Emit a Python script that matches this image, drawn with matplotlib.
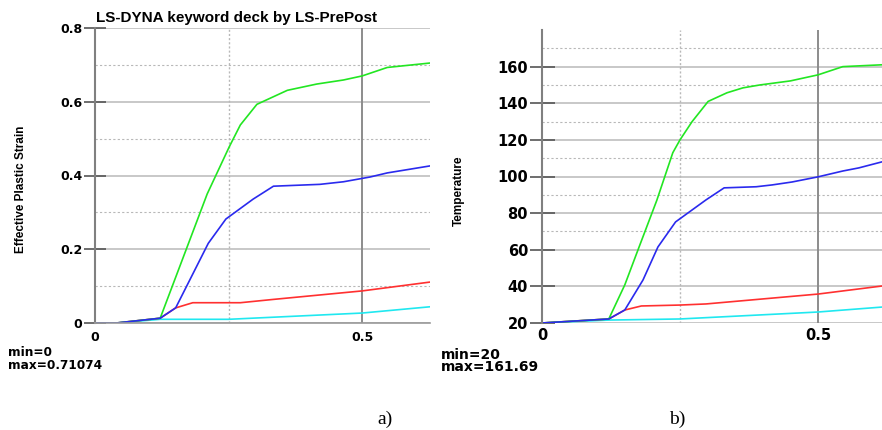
import matplotlib
matplotlib.use('Agg')
import matplotlib.pyplot as plt
from matplotlib.ticker import FixedLocator
from matplotlib.font_manager import FontProperties

# a) effective plastic strain
t_green_a = [0, 0.04, 0.122, 0.21, 0.251, 0.272, 0.303, 0.36, 0.415, 0.465, 0.5, 0.547, 0.627]
v_green_a = [0, 0, 0.013, 0.35, 0.477, 0.537, 0.593, 0.631, 0.648, 0.659, 0.67, 0.693, 0.705]
t_blue_a = [0, 0.04, 0.122, 0.151, 0.212, 0.245, 0.296, 0.334, 0.421, 0.465, 0.515, 0.547, 0.627]
v_blue_a = [0, 0, 0.013, 0.041, 0.216, 0.282, 0.336, 0.371, 0.376, 0.383, 0.396, 0.407, 0.426]
t_red_a = [0, 0.04, 0.122, 0.151, 0.183, 0.272, 0.334, 0.5, 0.627]
v_red_a = [0, 0, 0.013, 0.041, 0.055, 0.055, 0.064, 0.087, 0.111]
t_cyan_a = [0, 0.04, 0.122, 0.25, 0.5, 0.627]
v_cyan_a = [0, 0, 0.01, 0.01, 0.027, 0.044]

# b) temperature
t_green_b = [0, 0.121, 0.150, 0.174, 0.208, 0.237, 0.25, 0.272, 0.301, 0.335, 0.364, 0.395, 0.45, 0.5, 0.545, 0.616]
v_green_b = [20, 22.2, 40.8, 60, 87, 113, 120, 130, 141, 145.7, 148.4, 150, 152.2, 155.5, 160, 161]
t_blue_b = [0, 0.121, 0.150, 0.183, 0.21, 0.242, 0.297, 0.33, 0.388, 0.417, 0.453, 0.5, 0.545, 0.574, 0.616]
v_blue_b = [20, 22.2, 27.1, 43.5, 61.5, 75.2, 87.2, 93.8, 94.4, 95.4, 97, 99.8, 103, 104.7, 108]
t_red_b = [0, 0.121, 0.150, 0.18, 0.25, 0.297, 0.5, 0.616]
v_red_b = [20, 22.2, 27.1, 29.3, 29.8, 30.4, 35.8, 40.2]
t_cyan_b = [0, 0.121, 0.25, 0.5, 0.616]
v_cyan_b = [20, 21.6, 22.2, 26, 28.7]

GREEN = '#22e622'
BLUE = '#2a2aee'
RED = '#ff3030'
CYAN = '#20e8f0'

fig = plt.figure(figsize=(8.82, 4.30), dpi=100)

label_font = dict(family='Liberation Sans', weight='bold', size=8.5)


def style_axes(ax, major_y, minor_y, tick_len, xpad):
    for s in ['top', 'right']:
        ax.spines[s].set_visible(False)
    ax.spines['left'].set_color('#808080')
    ax.spines['left'].set_linewidth(1.5)
    ax.xaxis.set_major_locator(FixedLocator([0, 0.5]))
    ax.xaxis.set_major_formatter(plt.FuncFormatter(lambda v, p: '0' if v == 0 else '%g' % v))
    ax.yaxis.set_major_locator(FixedLocator(major_y))
    ax.tick_params(axis='y', direction='inout', length=tick_len, width=1.2, color='#555555', pad=1)
    ax.tick_params(axis='x', length=0, pad=xpad)
    # grid
    for y in major_y:
        ax.axhline(y, color='#c8c8c8', lw=1.4, zorder=0)
    for y in minor_y:
        ax.axhline(y, color='#b8b8b8', lw=0.8, ls=(0, (2, 2)), zorder=0)
    ax.axvline(0.25, color='#b8b8b8', lw=1.0, ls=(0, (1.5, 1.5)), zorder=0)
    ax.axvline(0.5, color='#8c8c8c', lw=1.4, zorder=0)


def set_tick_font(ax, size):
    fp = FontProperties(family='DejaVu Sans', weight='bold', size=size)
    for lab in ax.get_xticklabels() + ax.get_yticklabels():
        lab.set_fontproperties(fp)


# ---- panel a
ax1 = fig.add_axes([95 / 882, 1 - 323 / 430, 335 / 882, 295 / 430])
ax1.set_xlim(0, 0.627)
ax1.set_ylim(0, 0.8)
style_axes(ax1, [0, 0.2, 0.4, 0.6, 0.8], [0.1, 0.3, 0.5, 0.7], 16, 6)
ax1.yaxis.set_major_formatter(plt.FuncFormatter(lambda v, p: '0' if v == 0 else '%.1f' % v))
ax1.spines['bottom'].set_color('#9a9a9a')
ax1.spines['bottom'].set_linewidth(1.2)
set_tick_font(ax1, 9)
ax1.plot(t_cyan_a, v_cyan_a, color=CYAN, lw=1.2)
ax1.plot(t_red_a, v_red_a, color=RED, lw=1.2)
ax1.plot(t_green_a, v_green_a, color=GREEN, lw=1.2)
ax1.plot(t_blue_a, v_blue_a, color=BLUE, lw=1.2)
ax1.set_ylabel('Effective Plastic Strain', **label_font)
ax1.yaxis.set_label_coords(-0.203, 0.454)
fig.text(96 / 882, 1 - 18 / 430, 'LS-DYNA keyword deck by LS-PrePost', family='Liberation Sans',
         weight='bold', size=11, va='center', ha='left')
fig.text(8 / 882, 1 - 359 / 430, 'min=0\nmax=0.71074', family='DejaVu Sans', weight='bold',
         size=8.7, va='center', ha='left', linespacing=0.95)

# ---- panel b
ax2 = fig.add_axes([542 / 882, 1 - 323 / 430, 340 / 882, 293 / 430])
ax2.set_xlim(0, 0.616)
ax2.set_ylim(20, 180)
style_axes(ax2, [20, 40, 60, 80, 100, 120, 140, 160], [70, 90, 110, 130, 150, 170], 18, 3.5)
ax2.yaxis.set_major_formatter(plt.FuncFormatter(lambda v, p: '%d' % v))
ax2.spines['bottom'].set_visible(False)
set_tick_font(ax2, 10.5)
ax2.plot(t_cyan_b, v_cyan_b, color=CYAN, lw=1.2)
ax2.plot(t_red_b, v_red_b, color=RED, lw=1.2)
ax2.plot(t_green_b, v_green_b, color=GREEN, lw=1.2)
ax2.plot(t_blue_b, v_blue_b, color=BLUE, lw=1.2)
ax2.set_ylabel('Temperature', **label_font)
ax2.yaxis.set_label_coords(-0.226, 0.45)
fig.text(441 / 882, 1 - 361 / 430, 'min=20\nmax=161.69', family='DejaVu Sans', weight='bold',
         size=10, va='center', ha='left', linespacing=0.85)

fig.text(385 / 882, 1 - 419 / 430, 'a)', family='Liberation Serif', size=14, ha='center', va='center')
fig.text(677 / 882, 1 - 419 / 430, 'b)', family='Liberation Serif', size=14, ha='center', va='center')

fig.savefig('out.png', dpi=100)
